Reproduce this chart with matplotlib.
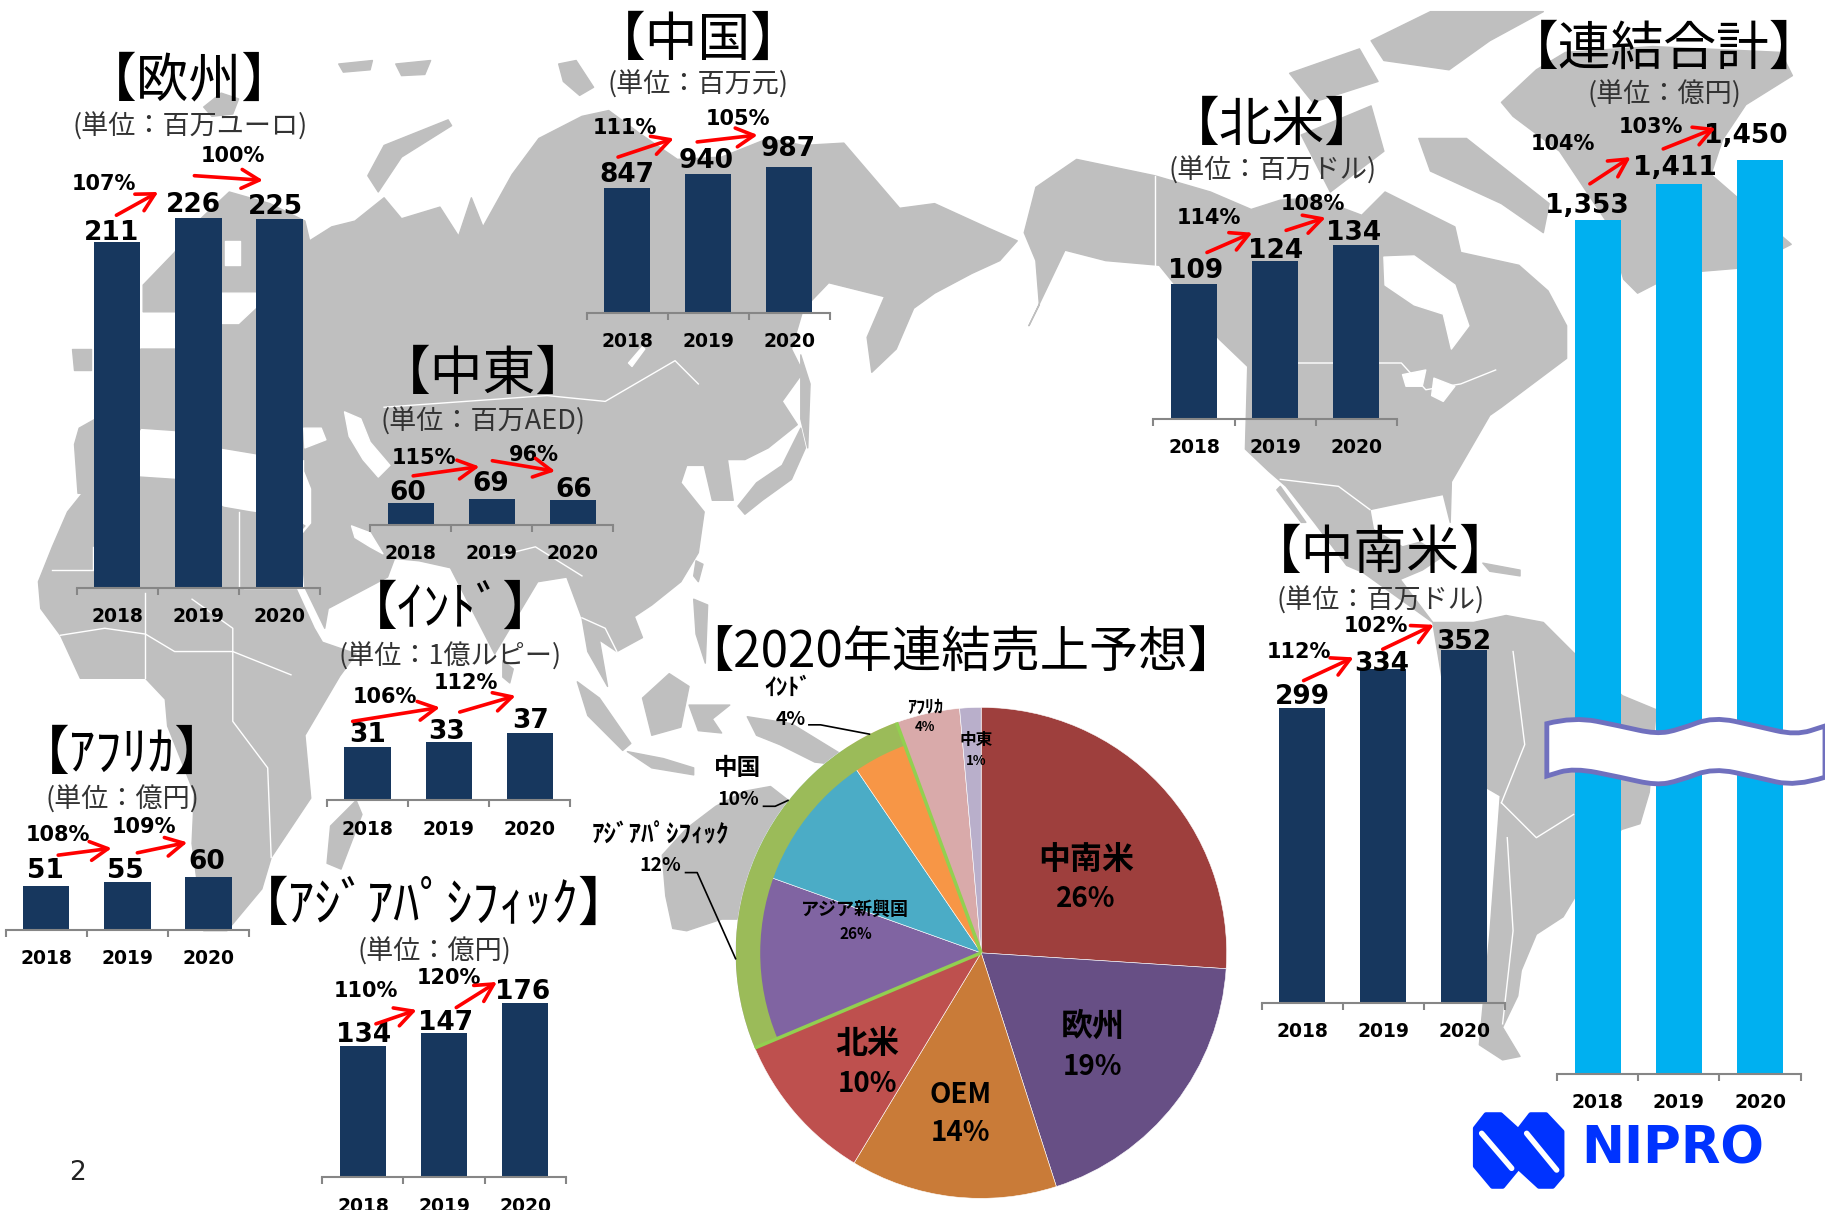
import numpy as np
import matplotlib
matplotlib.use('Agg')
import matplotlib.pyplot as plt
from matplotlib.patches import Polygon, Wedge, PathPatch
from matplotlib.path import Path

CJK = ['Noto Sans CJK JP', 'DejaVu Sans']
W, H = 1568, 1040   # layout units, the figure itself is 1825x1210

years = ['2018', '2019', '2020']

europe_vals = [211, 226, 225]
china_vals = [847, 940, 987]
mideast_vals = [60, 69, 66]
namerica_vals = [109, 124, 134]
total_vals = [1353, 1411, 1450]
latam_vals = [299, 334, 352]
india_vals = [31, 33, 37]
africa_vals = [51, 55, 60]
apac_vals = [134, 147, 176]

europe_pct = ['107%', '100%']
china_pct = ['111%', '105%']
mideast_pct = ['115%', '96%']
namerica_pct = ['114%', '108%']
total_pct = ['104%', '103%']
latam_pct = ['112%', '102%']
india_pct = ['106%', '112%']
africa_pct = ['108%', '109%']
apac_pct = ['110%', '120%']

pie_names = ['中南米', '欧州', 'OEM', '北米', 'ｱｼﾞｱﾊﾟｼﾌｨｯｸ', '中国', 'ｲﾝﾄﾞ', 'ｱﾌﾘｶ', '中東']
pie_labels = ['26%', '19%', '14%', '10%', '12%', '10%', '4%', '4%', '1%']
pie_values = [26, 19, 13.6, 10, 11.8, 10, 3.9, 4.2, 1.4]
pie_colors = ['#9E3F3D', '#674F85', '#C97B38', '#BE504E', '#8064A2',
              '#4BACC6', '#F79646', '#D9AAAA', '#B9AFCB']

# background map, rough outlines
land = [
    # africa
    [(33,500),(45,470),(58,440),(70,425),(90,415),(120,410),(150,412),(192,436),(215,440),(250,445),(262,452),(250,465),
     (254,505),(270,540),(277,552),(306,562),(292,581),(262,632),(267,686),(233,737),(225,764),(195,800),(175,800),
     (165,725),(167,682),(144,624),(142,601),(125,583),(69,583),(52,546),(35,523)],
    # eurasia
    [(64,382),(68,368),(100,350),(100,320),(121,300),(151,300),(151,268),(123,268),(123,245),(150,217),(165,195),(197,165),
     (232,175),(262,190),(266,207),(285,195),(305,190),(330,170),(345,188),(378,178),(394,203),(405,170),(415,195),(440,150),
     (463,119),(500,100),(523,95),(550,115),(582,137),(620,135),(660,119),(690,125),(725,123),(773,179),(803,175),(849,196),
     (874,207),(859,224),(835,235),(803,252),(785,265),(770,300),(749,320),(745,290),(760,255),(740,250),(712,243),(690,266),
     (680,300),(690,320),(672,345),(685,365),(660,385),(640,395),(625,395),(630,430),(612,430),(605,400),(590,400),(585,415),
     (605,440),(600,475),(585,500),(560,520),(545,530),(552,548),(530,560),(515,550),(522,590),(505,560),(500,531),(487,496),
     (462,500),(425,562),(387,488),(360,482),(339,480),(333,496),(282,523),(279,540),(262,505),(258,462),(268,450),(268,420),
     (262,405),(262,395),(220,390),(190,385),(150,370),(121,368),(100,400),(81,424),(67,424)],
    # north and central america
    [(890,161),(925,137),(992,151),(1040,165),(1075,180),(1100,172),(1130,170),(1170,185),(1190,165),(1220,180),(1250,195),
     (1255,217),(1305,228),(1330,250),(1346,280),(1346,308),(1290,350),(1280,357),(1247,414),(1246,449),(1240,425),(1220,429),
     (1177,438),(1180,455),(1205,470),(1220,466),(1240,478),(1222,490),(1203,498),(1231,535),(1171,492),(1157,486),(1130,450),
     (1105,418),(1090,405),(1070,386),(1072,315),(1047,291),(996,228),(950,224),(915,215),(884,280),(893,262),(890,224),(880,200)],
    # south america
    [(1231,535),(1266,535),(1294,529),(1326,535),(1352,561),(1394,598),(1423,610),(1417,681),(1409,708),(1393,713),(1352,773),
     (1343,788),(1320,803),(1307,834),(1304,856),(1291,883),(1306,908),(1291,911),(1271,898),(1280,803),(1287,711),(1289,684),
     (1277,677),(1245,620)],
    # greenland
    [(1290,88),(1320,60),(1345,45),(1420,40),(1530,45),(1540,65),(1500,90),(1480,120),(1470,150),(1539,210),(1500,230),
     (1440,235),(1407,252),(1395,240),(1380,190),(1340,130),(1300,100)],
    # arctic canada
    [(1178,35),(1229,10),(1326,10),(1280,35),(1245,60),(1189,52)],
    [(1219,119),(1260,119),(1331,175),(1326,200),(1290,175),(1229,147)],
    [(1118,116),(1178,91),(1189,130),(1143,165)],
    [(1108,63),(1168,42),(1184,70),(1128,88)],
    # baja, caribbean
    [(1100,418),(1122,449),(1118,449),(1097,421)],
    [(1274,484),(1306,490),(1306,495),(1280,491)],
    # north atlantic, arctic russia
    [(175,92),(190,80),(205,85),(200,98),(182,100)],
    [(62,300),(78,300),(78,318),(64,318)],
    [(291,55),(320,52),(318,60),(295,62)],
    [(340,55),(370,52),(365,64),(345,65)],
    [(480,55),(495,52),(510,75),(498,82),(484,70)],
    [(316,151),(330,125),(385,103),(388,108),(345,135),(325,165)],
    # japan, sakhalin, taiwan
    [(634,435),(650,415),(672,400),(688,368),(692,385),(680,412),(655,430),(640,442)],
    [(688,305),(696,330),(694,385),(688,360)],
    [(598,482),(604,485),(600,500),(596,495)],
    # south east asia
    [(496,586),(515,600),(542,639),(535,645),(505,615)],
    [(552,600),(575,579),(592,590),(585,625),(560,632)],
    [(539,646),(570,652),(596,660),(596,666),(560,660)],
    [(592,606),(627,606),(612,618),(620,630),(600,628)],
    [(642,616),(680,622),(742,660),(700,655),(670,640),(650,632)],
    [(596,515),(608,520),(606,570),(598,545)],
    # australia, madagascar, sri lanka
    [(569,735),(590,712),(615,693),(640,680),(662,676),(680,690),(720,720),(720,790),(620,790),(590,800),(578,798),(572,770)],
    [(306,688),(311,700),(293,747),(281,742),(284,710)],
    [(432,568),(441,575),(438,587),(432,582)],
]

sea = [
    [(193,207),(206,207),(206,228),(193,228)],
    [(190,252),(220,252),(222,262),(205,278),(190,278)],
    [(261,368),(276,368),(280,378),(262,385)],
    [(296,354),(310,360),(318,380),(335,400),(325,410),(312,395),(300,375)],
    [(302,452),(318,458),(329,476),(318,470),(305,462)],
    [(540,312),(552,298),(554,300),(543,315)],
    [(1189,221),(1215,220),(1250,245),(1262,280),(1247,300),(1240,270),(1215,262),(1190,245)],
    [(1205,322),(1225,318),(1222,332),(1208,332)],
    [(1232,325),(1250,332),(1240,345),(1230,340)],
]

borders = [
    [(992,151),(992,228)],
    [(1080,312),(1204,312),(1225,335),(1255,330),(1285,318)],
    [(1100,412),(1150,418),(1177,438)],
    [(45,490),(80,490),(80,470)],
    [(52,546),(90,540),(125,545),(150,560),(200,560),(250,580)],
    [(125,510),(125,583)],
    [(165,515),(200,540),(200,620),(230,660),(233,737)],
    [(205,440),(205,505)],
    [(260,505),(210,505)],
    [(330,350),(400,345),(470,340),(520,345),(580,310),(600,330)],
    [(420,480),(460,470),(500,495)],
    [(500,531),(520,540),(530,560)],
    [(1300,560),(1310,640),(1290,690)],
    [(1290,690),(1320,720),(1352,700)],
    [(1295,720),(1300,800),(1291,880)],
]

fig = plt.figure(figsize=(18.25, 12.10), dpi=100)


def rect(x0, y_top, x1, y_bottom):
    return [x0 / W, 1 - y_bottom / H, (x1 - x0) / W, (y_bottom - y_top) / H]


def layer(z):
    a = fig.add_axes([0, 0, 1, 1], zorder=z)
    a.set_xlim(0, W)
    a.set_ylim(H, 0)
    a.axis('off')
    a.patch.set_alpha(0)
    return a


bg = layer(0)
top = layer(5)

for pts in land:
    bg.add_patch(Polygon(pts, closed=True, fc='#BFBFBF', ec='#BFBFBF', lw=1, joinstyle='round'))
for pts in sea:
    bg.add_patch(Polygon(pts, closed=True, fc='white', ec='white', lw=1, joinstyle='round'))
for pts in borders:
    xs, ys = zip(*pts)
    bg.plot(xs, ys, color='white', lw=1.0)


def bar_panel(x_left, base, ymin, ppu, vals, color='#17375E'):
    ymax = max(vals)
    a = fig.add_axes(rect(x_left, base - (ymax - ymin) * ppu, x_left + 209, base), zorder=2)
    a.patch.set_alpha(0)
    centers = [0.5, 1.5, 2.5]
    a.bar(centers, [v - ymin for v in vals], bottom=ymin, width=0.57, color=color)
    a.set_xlim(0, 3)
    a.set_ylim(ymin, ymax)
    for s in ['top', 'left', 'right']:
        a.spines[s].set_visible(False)
    a.spines['bottom'].set_color('#868686')
    a.spines['bottom'].set_linewidth(1.5)
    a.set_yticks([])
    a.set_xticks([0, 1, 2, 3], [''] * 4)
    a.tick_params(axis='x', which='major', length=5, width=1.5, color='#868686')
    a.set_xticks(centers, years, minor=True)
    a.tick_params(axis='x', which='minor', length=0, pad=14)
    for t in a.get_xticklabels(minor=True):
        t.set_fontsize(13.5)
        t.set_fontweight('bold')
    return a


def headings(title, unit, x, y_title, y_unit):
    top.text(x, y_title + 3, title, family=CJK, fontsize=38, ha='center', va='center', color='black')
    top.text(x, y_unit + 1, unit, family=CJK, fontsize=19.5, ha='center', va='center', color='#333333')


def values(vals, pos):
    for v, (x, y) in zip(vals, pos):
        top.text(x, y + 2, f'{v:,}', fontsize=19, fontweight='bold', ha='center', va='center')


def growth(pct, pos, arrows):
    for p, (x, y) in zip(pct, pos):
        top.text(x, y + 1, p, fontsize=15, fontweight='bold', ha='center', va='center')
    for start, end in arrows:
        top.annotate('', xy=end, xytext=start,
                     arrowprops=dict(arrowstyle='->,head_length=0.75,head_width=0.4', color='red',
                                     lw=2.6, mutation_scale=17, shrinkA=0, shrinkB=0))


# europe
bar_panel(66, 505, 0, 1.407, europe_vals)
headings('【欧州】', '(単位：百万ユーロ)', 163, 67, 108)
values(europe_vals, [(96, 198), (166, 174), (237, 176)])
growth(europe_pct, [(89, 157), (200, 133)], [((100, 185), (136, 165)), ((167, 151), (226, 155))])

# china
bar_panel(504, 269, 0, 0.127, china_vals)
headings('【中国】', '(単位：百万元)', 600, 32, 72)
values(china_vals, [(539, 148), (607, 136), (677, 126)])
growth(china_pct, [(537, 109), (634, 101)], [((531, 135), (579, 119)), ((599, 122), (651, 116))])

# middle east
bar_panel(318, 451, 0, 0.317, mideast_vals)
headings('【中東】', '(単位：百万AED)', 415, 319, 361)
values(mideast_vals, [(350, 422), (422, 414), (493, 419)])
growth(mideast_pct, [(364, 393), (459, 390)], [((355, 409), (412, 401)), ((423, 396), (477, 405))])

# north america
bar_panel(991, 360, 24, 1.36, namerica_vals)
headings('【北米】', '(単位：百万ドル)', 1093, 105, 146)
values(namerica_vals, [(1027, 231), (1096, 214), (1163, 198)])
growth(namerica_pct, [(1039, 186), (1128, 174)], [((1037, 217), (1076, 200)), ((1105, 198), (1139, 187))])

# consolidated total
bar_panel(1338, 923, -16, 0.536, total_vals, color='#00B0F0')
headings('【連結合計】', '(単位：億円)', 1430, 39, 80)
values(total_vals, [(1363, 175), (1439, 142), (1500, 115)])
growth(total_pct, [(1343, 123), (1418, 108)], [((1366, 158), (1401, 135)), ((1429, 128), (1474, 110))])

# latin america
bar_panel(1084, 862, 30, 0.943, latam_vals)
headings('【中南米】', '(単位：百万ドル)', 1186, 473, 515)
values(latam_vals, [(1119, 597), (1187, 569), (1258, 550)])
growth(latam_pct, [(1116, 559), (1182, 537)], [((1120, 585), (1163, 565)), ((1188, 558), (1232, 537))])

# india
bar_panel(281, 688, 8, 2.0, india_vals)
headings('【ｲﾝﾄﾞ】', '(単位：1億ルピー)', 387, 521, 563)
values(india_vals, [(316, 630), (384, 627), (456, 618)])
growth(india_pct, [(331, 598), (400, 586)], [((303, 620), (378, 608)), ((395, 612), (443, 598))])

# africa
bar_panel(5, 799, 9, 0.89, africa_vals)
headings('【ｱﾌﾘｶ】', '(単位：億円)', 105, 645, 686)
values(africa_vals, [(39, 747), (108, 747), (178, 739)])
growth(africa_pct, [(50, 717), (124, 710)], [((50, 735), (96, 729)), ((118, 733), (161, 724))])

# asia pacific
bar_panel(277, 1012, 6, 0.88, apac_vals)
headings('【ｱｼﾞｱﾊﾟｼﾌｨｯｸ】', '(単位：億円)', 373, 775, 817)
values(apac_vals, [(312, 888), (383, 877), (449, 851)])
growth(apac_pct, [(314, 851), (386, 840)], [((323, 880), (358, 868)), ((392, 866), (427, 844))])

# pie
cx, cy, r = 843, 819, 211
pie_ax = fig.add_axes(rect(cx - r, cy - r, cx + r, cy + r), zorder=3)
pie_ax.pie(pie_values, colors=pie_colors, startangle=90, counterclock=False, radius=1,
           wedgeprops=dict(linewidth=0.4, edgecolor='white'))
pie_ax.set_xlim(-1, 1)
pie_ax.set_ylim(-1, 1)
edges = np.cumsum(pie_values) / sum(pie_values) * 360
ring_start, ring_end = edges[3], edges[6]
pie_ax.add_patch(Wedge((0, 0), 1, 90 - ring_end, 90 - ring_start, width=0.1, fc='#9BBB59', ec='none'))
for a in (ring_start, ring_end):
    th = np.radians(90 - a)
    pie_ax.plot([0, np.cos(th)], [0, np.sin(th)], color='#92D050', lw=2.5, solid_capstyle='butt')

top.text(825, 562, '【2020年連結売上予想】', family=CJK, fontsize=35.5, ha='center', va='center')


def pie_text(idx, name_xy, value_xy, name_size, value_size):
    top.text(*name_xy, pie_names[idx], family=CJK, fontweight='bold', fontsize=name_size, ha='center', va='center')
    top.text(*value_xy, pie_labels[idx], family=CJK, fontweight='bold', fontsize=value_size, ha='center', va='center')


pie_text(0, (933, 739), (933, 773), 23, 20)
pie_text(1, (939, 882), (939, 917), 23, 20)
pie_text(2, (825, 941), (825, 974), 20, 20)
pie_text(3, (745, 897), (745, 932), 23, 20)
pie_text(4, (567, 718), (567, 744), 18, 14)
pie_text(5, (634, 660), (634, 687), 17, 14)
pie_text(6, (677, 591), (679, 618), 17, 14)
pie_text(7, (795, 608), (795, 625), 13, 9.5)
pie_text(8, (839, 636), (839, 654), 12, 9.5)
top.text(735, 782, 'アジア新興国', family=CJK, fontweight='bold', fontsize=13, ha='center', va='center')
top.text(735, 803, '26%', family=CJK, fontweight='bold', fontsize=11, ha='center', va='center')

leaders = [
    [(695, 623), (705, 623), (747, 631)],
    [(656, 693), (666, 693), (677, 688)],
    [(589, 750), (599, 750), (632, 824)],
]
for pts in leaders:
    xs, ys = zip(*pts)
    top.plot(xs, ys, color='black', lw=1.2)

# axis break on the total panel
upper = [(1329, 622), (1352, 616), (1392, 624), (1423, 631), (1443, 627), (1472, 616), (1509, 624), (1543, 632), (1568, 624)]
lower = [(1329, 667), (1352, 660), (1392, 668), (1423, 675), (1443, 671), (1472, 660), (1509, 668), (1543, 676), (1568, 668)]


def smooth(pts):
    # quadratic curves through the midpoints
    verts, codes = [pts[0]], [Path.LINETO]
    for i in range(1, len(pts) - 1):
        mid = ((pts[i][0] + pts[i + 1][0]) / 2, (pts[i][1] + pts[i + 1][1]) / 2)
        verts += [pts[i], mid]
        codes += [Path.CURVE3, Path.CURVE3]
    verts.append(pts[-1])
    codes.append(Path.LINETO)
    return verts, codes


v1, c1 = smooth(upper)
v2, c2 = smooth(lower[::-1])
verts = v1 + v2 + [upper[0]]
codes = [Path.MOVETO] + c1[1:] + c2 + [Path.CLOSEPOLY]
top.add_patch(PathPatch(Path(verts, codes), fc='white', ec='#7070BE', lw=3.5, clip_on=False))

# logo
logo = [(46, 115), (78, 74), (122, 74), (175, 122), (212, 74), (258, 74), (306, 125), (306, 256), (278, 289),
        (237, 289), (175, 232), (128, 289), (97, 289), (46, 228)]
logo = [((1460 + x / 3) * W / 1825, (1090 + y / 3) * H / 1210) for x, y in logo]
top.add_patch(Polygon(logo, closed=True, fc='#0033FF', ec='#0033FF', lw=3.5, joinstyle='round'))
for (x0, y0), (x1, y1) in [((65, 130), (155, 235)), ((200, 130), (290, 240))]:
    top.plot([(1460 + x0 / 3) * W / 1825, (1460 + x1 / 3) * W / 1825],
             [(1090 + y0 / 3) * H / 1210, (1090 + y1 / 3) * H / 1210],
             color='white', lw=4, solid_capstyle='round')
top.text(1437, 988, 'NIPRO', fontsize=37, fontweight='bold', color='#0033FF', ha='center', va='center')

top.text(67, 1008, '2', fontsize=19, ha='center', va='center', color='#222222')

fig.savefig('out.png', dpi=100)
